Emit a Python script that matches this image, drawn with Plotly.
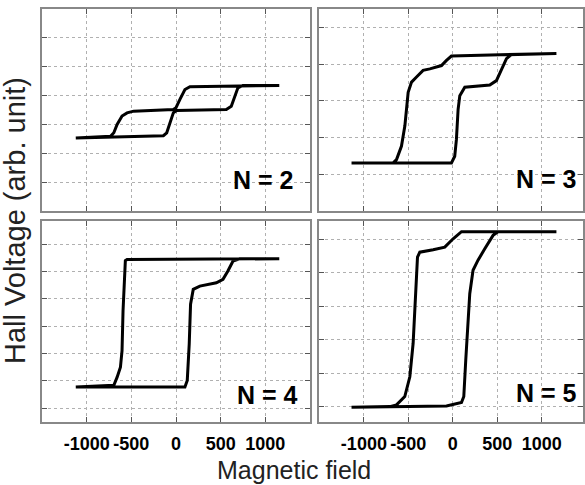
import plotly.graph_objects as go

# ---- data (field in Oe, Hall voltage in arb. units) ----
h2 = [-1122, -141, -104, -67, -30, 7, 563, 619, 656, 693, 748, 1156,
      156, 100, 44, 0, -30, -474, -548, -604, -659, -696, -733, -1122]
v2 = [2.53, 2.61, 2.71, 3.05, 3.40, 3.48, 3.52, 3.63, 3.93, 4.27, 4.35, 4.35,
      4.31, 4.21, 3.87, 3.58, 3.52, 3.46, 3.40, 3.29, 3.0, 2.71, 2.59, 2.53]

h3 = [-1139, -15, 22, 41, 60, 79, 135, 416, 491, 547, 604, 660, 1166,
      -15, -71, -127, -258, -334, -408, -464, -502, -520, -539, -577, -633, -670, -1139]
v3 = [1.31, 1.31, 1.49, 1.95, 2.77, 3.14, 3.37, 3.43, 3.55, 3.83, 4.15, 4.26, 4.29,
      4.22, 4.10, 3.96, 3.87, 3.83, 3.65, 3.51, 3.23, 2.87, 2.32, 1.77, 1.40, 1.31, 1.31]

h4 = [-1122, 100, 126, 148, 163, 193, 267, 452, 526, 581, 637, 711, 1156,
      -548, -567, -578, -593, -604, -622, -659, -696, -1122]
v4 = [0.78, 0.78, 1.02, 2.35, 3.81, 4.35, 4.47, 4.59, 4.72, 5.02, 5.38, 5.47, 5.47,
      5.44, 5.40, 4.78, 3.56, 2.11, 1.50, 1.14, 0.84, 0.78]

h5 = [-1139, -71, 98, 124, 146, 172, 191, 228, 284, 360, 453, 509, 1166,
      98, 4, -90, -221, -371, -397, -416, -446, -483, -540, -633, -708, -1139]
v5 = [-0.01, 0.03, 0.13, 0.31, 1.40, 2.59, 3.38, 4.08, 4.38, 4.72, 5.12, 5.23, 5.23,
      5.23, 5.02, 4.77, 4.69, 4.62, 4.47, 3.38, 1.90, 0.90, 0.31, 0.06, 0.01, -0.01]

panel_labels = ["N = 2", "N = 3", "N = 4", "N = 5"]
x_tickvals = [-1000, -500, 0, 500, 1000]
x_ticktext = ["-1000", "-500", "0", "500", "1000"]
y_title = "Hall Voltage (arb. unit)"
x_title = "Magnetic field"

W, H = 585, 485

def px_x(a, b):
    return [a / W, b / W]

def px_y(top, bottom):
    return [(H - bottom) / H, (H - top) / H]

panels = [
    dict(h=h2, v=v2, xd=px_x(42, 310), yd=px_y(9, 211), xr=[-1500, 1500], yr=[0, 7], lab=False),
    dict(h=h3, v=v3, xd=px_x(319, 583), yd=px_y(9, 211), xr=[-1505, 1465], yr=[0, 5.5], lab=False),
    dict(h=h4, v=v4, xd=px_x(42, 310), yd=px_y(221, 422), xr=[-1500, 1500], yr=[-0.5, 6.85], lab=True),
    dict(h=h5, v=v5, xd=px_x(319, 583), yd=px_y(221, 422), xr=[-1505, 1465], yr=[-0.45, 5.55], lab=True),
]
label_pos = [(263, 180), (546, 179), (267, 395), (546, 393)]

fig = go.Figure()
layout = dict(
    width=W, height=H,
    margin=dict(l=0, r=0, t=0, b=0),
    paper_bgcolor="white", plot_bgcolor="white",
    showlegend=False,
    font=dict(family="Liberation Sans, Arial, sans-serif", color="black"),
)

axis_common = dict(
    showline=True, linecolor="#888888", linewidth=1.5, mirror="ticks",
    ticks="inside", ticklen=5, tickcolor="#555555", tickwidth=1,
    showgrid=True, gridcolor="#b0b0b0", griddash="dot", gridwidth=1,
    zeroline=False, fixedrange=True,
)

annotations = []
for i, p in enumerate(panels):
    n = i + 1
    xa = "x" if n == 1 else f"x{n}"
    ya = "y" if n == 1 else f"y{n}"
    fig.add_trace(go.Scatter(x=p["h"], y=p["v"], mode="lines",
                             line=dict(color="black", width=3),
                             xaxis=xa, yaxis=ya, hoverinfo="skip"))
    xkey = "xaxis" if n == 1 else f"xaxis{n}"
    ykey = "yaxis" if n == 1 else f"yaxis{n}"
    layout[xkey] = dict(axis_common, domain=p["xd"], range=p["xr"], anchor=ya,
                        tickvals=x_tickvals, ticktext=x_ticktext,
                        showticklabels=p["lab"], ticklabelstandoff=5,
                        tickfont=dict(size=18, color="black",
                                      family="Liberation Sans, Arial, sans-serif",
                                      weight="bold"))
    layout[ykey] = dict(axis_common, domain=p["yd"], range=p["yr"], anchor=xa,
                        tick0=0, dtick=1, showticklabels=False)
    lx, ly = label_pos[i]
    annotations.append(dict(text=f"<b>{panel_labels[i]}</b>", x=lx / W, y=(H - ly) / H,
                            xref="paper", yref="paper", showarrow=False,
                            xanchor="center", yanchor="middle",
                            font=dict(size=25, color="black")))

annotations.append(dict(text=y_title, x=15 / W, y=(H - 221) / H, xref="paper", yref="paper",
                        showarrow=False, textangle=-90, xanchor="center", yanchor="middle",
                        font=dict(size=29, color="#222222")))
annotations.append(dict(text=x_title, x=294 / W, y=(H - 470) / H, xref="paper", yref="paper",
                        showarrow=False, xanchor="center", yanchor="middle",
                        font=dict(size=25, color="#222222")))
layout["annotations"] = annotations
fig.update_layout(**layout)
fig.write_html("out.html")
